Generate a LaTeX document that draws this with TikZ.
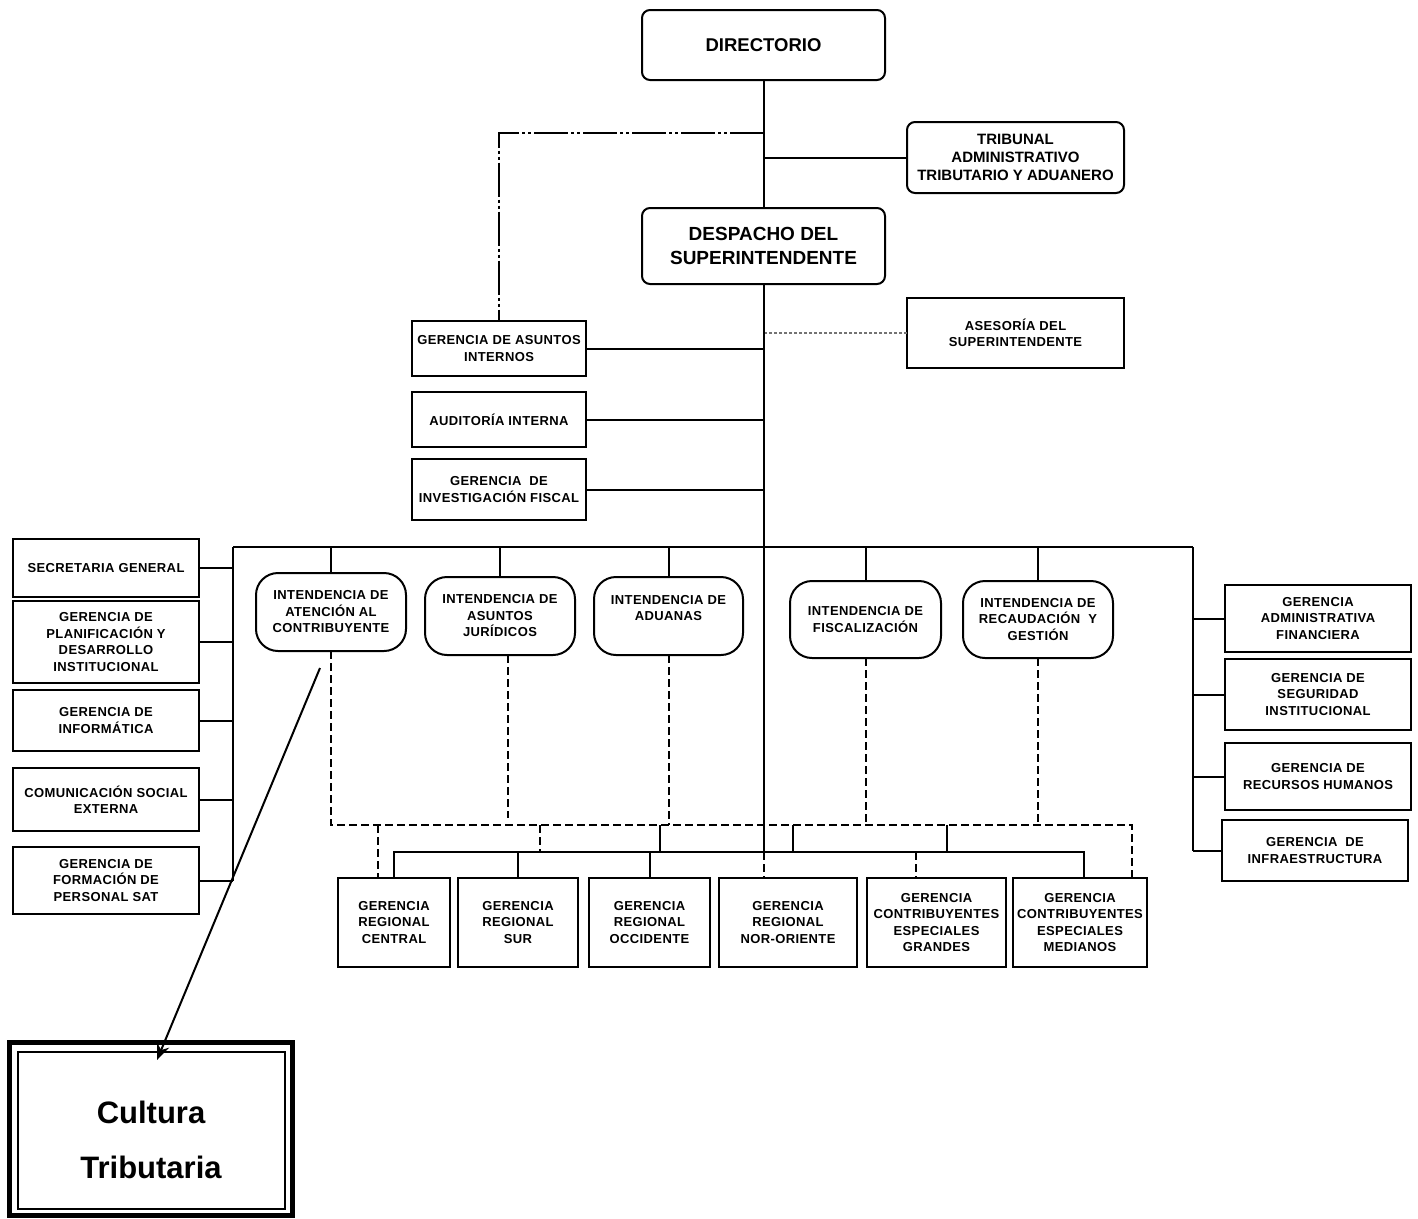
\documentclass[tikz,border=0pt]{standalone}
\usepackage{fontspec}
\setmainfont{Liberation Sans}
\newfontfamily\lblfont{Liberation Sans}[LetterSpace=3]
\usetikzlibrary{arrows.meta}
\begin{document}
\begin{tikzpicture}[x=1pt,y=-1pt,
  every node/.style={inner sep=0pt, outer sep=0pt},
  orgbox/.style={draw, line width=2pt, align=center, font=\lblfont\fontsize{13}{16.5}\selectfont\bfseries},
  rorgbox/.style={orgbox, rounded corners=8pt},
  iorgbox/.style={orgbox, rounded corners=22pt},
  conn/.style={line width=2pt},
  dconn/.style={line width=2pt, dash pattern=on 8pt off 4pt},
  ddconn/.style={line width=2pt, dash pattern=on 34pt off 3pt on 3pt off 3pt on 3pt off 3pt},
  fconn/.style={line width=1.6pt, black!55, dash pattern=on 3pt off 2pt},
]
\useasboundingbox (0,0) rectangle (1418,1218);
\fill[white] (0,0) rectangle (1418,1218);

% top
\node[rorgbox, minimum width=243, minimum height=70, font=\fontsize{18.5}{22}\selectfont\bfseries] (dir) at (763.5,45) {DIRECTORIO};
\node[rorgbox, minimum width=217, minimum height=71, font=\fontsize{15}{18}\selectfont\bfseries] (trib) at (1015.5,157.5) {TRIBUNAL\\ADMINISTRATIVO\\TRIBUTARIO Y ADUANERO};
\node[rorgbox, minimum width=243, minimum height=76, font=\fontsize{19}{24}\selectfont\bfseries] (desp) at (763.5,246) {DESPACHO DEL\\SUPERINTENDENTE};
\node[orgbox, minimum width=217, minimum height=70] (ases) at (1015.5,333) {ASESORÍA DEL\\SUPERINTENDENTE};
\node[orgbox, minimum width=174, minimum height=55] (gai) at (499,348.5) {GERENCIA DE ASUNTOS\\INTERNOS};
\node[orgbox, minimum width=174, minimum height=55] (aud) at (499,419.5) {AUDITORÍA INTERNA};
\node[orgbox, minimum width=174, minimum height=61] (gif) at (499,489.5) {GERENCIA~~DE\\INVESTIGACIÓN FISCAL};

% left
\node[orgbox, minimum width=186, minimum height=58] (sg) at (106,568) {SECRETARIA GENERAL};
\node[orgbox, minimum width=186, minimum height=82] (gpd) at (106,642) {GERENCIA DE\\PLANIFICACIÓN Y\\DESARROLLO\\INSTITUCIONAL};
\node[orgbox, minimum width=186, minimum height=61] (gin) at (106,720.5) {GERENCIA DE\\INFORMÁTICA};
\node[orgbox, minimum width=186, minimum height=63] (cse) at (106,799.5) {COMUNICACIÓN SOCIAL\\EXTERNA};
\node[orgbox, minimum width=186, minimum height=67] (gfp) at (106,880.5) {GERENCIA DE\\FORMACIÓN DE\\PERSONAL SAT};

% right
\node[orgbox, minimum width=186, minimum height=67] (gaf) at (1318,618.5) {GERENCIA\\ADMINISTRATIVA\\FINANCIERA};
\node[orgbox, minimum width=186, minimum height=71] (gsi) at (1318,694.5) {GERENCIA DE\\SEGURIDAD\\INSTITUCIONAL};
\node[orgbox, minimum width=186, minimum height=67] (grh) at (1318,776.5) {GERENCIA DE\\RECURSOS HUMANOS};
\node[orgbox, minimum width=186, minimum height=61] (ginf) at (1315,850.5) {GERENCIA~~DE\\INFRAESTRUCTURA};

% intendencias
\node[iorgbox, minimum width=150, minimum height=78] (iac) at (331,612) {INTENDENCIA DE\\ATENCIÓN AL\\CONTRIBUYENTE};
\node[iorgbox, minimum width=150, minimum height=78] (ijur) at (500,616) {INTENDENCIA DE\\ASUNTOS\\JURÍDICOS};
\node[iorgbox, minimum width=149, minimum height=78] (iadu) at (668.5,616) {INTENDENCIA DE\\ADUANAS\\\mbox{}};
\node[iorgbox, minimum width=151, minimum height=77] (ifis) at (865.5,619.5) {INTENDENCIA DE\\FISCALIZACIÓN};
\node[iorgbox, minimum width=150, minimum height=77] (irec) at (1038,619.5) {INTENDENCIA DE\\RECAUDACIÓN~~Y\\GESTIÓN};

% regionales
\node[orgbox, minimum width=112, minimum height=89] (grc) at (394,922.5) {GERENCIA\\REGIONAL\\CENTRAL};
\node[orgbox, minimum width=120, minimum height=89] (grs) at (518,922.5) {GERENCIA\\REGIONAL\\SUR};
\node[orgbox, minimum width=121, minimum height=89] (gro) at (649.5,922.5) {GERENCIA\\REGIONAL\\OCCIDENTE};
\node[orgbox, minimum width=138, minimum height=89] (gno) at (788,922.5) {GERENCIA\\REGIONAL\\NOR-ORIENTE};
\node[orgbox, minimum width=139, minimum height=89] (gceg) at (936.5,922.5) {GERENCIA\\CONTRIBUYENTES\\ESPECIALES\\GRANDES};
\node[orgbox, minimum width=134, minimum height=89] (gcem) at (1080,922.5) {GERENCIA\\CONTRIBUYENTES\\ESPECIALES\\MEDIANOS};

% cultura tributaria
\node[draw, line width=5pt, minimum width=283, minimum height=173] (cult) at (151,1129) {};
\draw[line width=1.6pt] ([shift={(8.5,9.5)}]cult.north west) rectangle ([shift={(-7.5,-6.5)}]cult.south east);
\node[align=center, font=\fontsize{31}{55}\selectfont\bfseries] (culttext) at (151,1140) {Cultura\\Tributaria};

% connectors top
\draw[conn] (dir.south) -- (desp.north);
\draw[conn] (trib.west) -- (trib.west -| dir.south);
\coordinate (ddc) at (499,133);
\draw[ddconn] (dir.south |- ddc) -- (ddc) -- (gai.north);
\draw[fconn] (ases.west) -- (ases.west -| desp.south);
\draw[conn] (gai.east) -- (gai.east -| desp.south);
\draw[conn] (aud.east) -- (aud.east -| desp.south);
\draw[conn] (gif.east) -- (gif.east -| desp.south);

% main bus
\coordinate (busL) at (233,547);
\coordinate (busR) at (1193,547);
\coordinate (rbus) at (764,852);
\draw[conn] (busL) -- (busR);
\draw[conn] (desp.south) -- (desp.south |- rbus);
\draw[dconn] (desp.south |- rbus) -- (desp.south |- gno.north);
\draw[conn] (busL) -- (busL |- gfp.east);
\foreach \n in {sg,gpd,gin,cse,gfp} \draw[conn] (\n.east) -- (\n.east -| busL);
\draw[conn] (busR) -- (busR |- ginf.west);
\foreach \n in {gaf,gsi,grh,ginf} \draw[conn] (\n.west) -- (\n.west -| busR);
\foreach \n in {iac,ijur,iadu,ifis,irec} \draw[conn] (\n.north |- busL) -- (\n.north);

% regional solid bus
\coordinate (rbR) at (1084,852);
\draw[conn] (grc.north) -- (grc.north |- rbR) -- (rbR) -- (rbR |- gcem.north);
\draw[conn] (grs.north) -- (grs.north |- rbR);
\draw[conn] (gro.north) -- (gro.north |- rbR);
\coordinate (gd) at (916,852);
\draw[dconn] (gd) -- (gd |- gceg.north);

% dashed upper bus
\coordinate (dbL) at (331,825);
\coordinate (dbR) at (1132,825);
\draw[dconn] (iac.south) -- (dbL) -- (dbR) -- (dbR |- gcem.north);
\draw[dconn] (iadu.south) -- (iadu.south |- dbL);
\draw[dconn] (ifis.south) -- (ifis.south |- dbL);
\draw[dconn] (irec.south) -- (irec.south |- dbL);
\coordinate (jd1) at (508,655);
\coordinate (jd2) at (508,818);
\draw[dconn] (jd1) -- (jd2);
\coordinate (cd) at (378,825);
\draw[dconn] (cd) -- (cd |- grc.north);
\coordinate (s1) at (540,825);
\draw[dconn] (s1) -- (s1 |- rbR);
\coordinate (s2) at (660,825);
\draw[conn] (s2) -- (s2 |- rbR);
\coordinate (s3) at (793,825);
\draw[conn] (s3) -- (s3 |- rbR);
\coordinate (s4) at (947,825);
\draw[conn] (s4) -- (s4 |- rbR);

% arrow
\coordinate (as) at (320,668);
\coordinate (at) at (157,1060);
\draw[line width=2pt, -{Stealth[length=16pt,width=13pt]}] (as) -- (at);
\end{tikzpicture}
\end{document}
